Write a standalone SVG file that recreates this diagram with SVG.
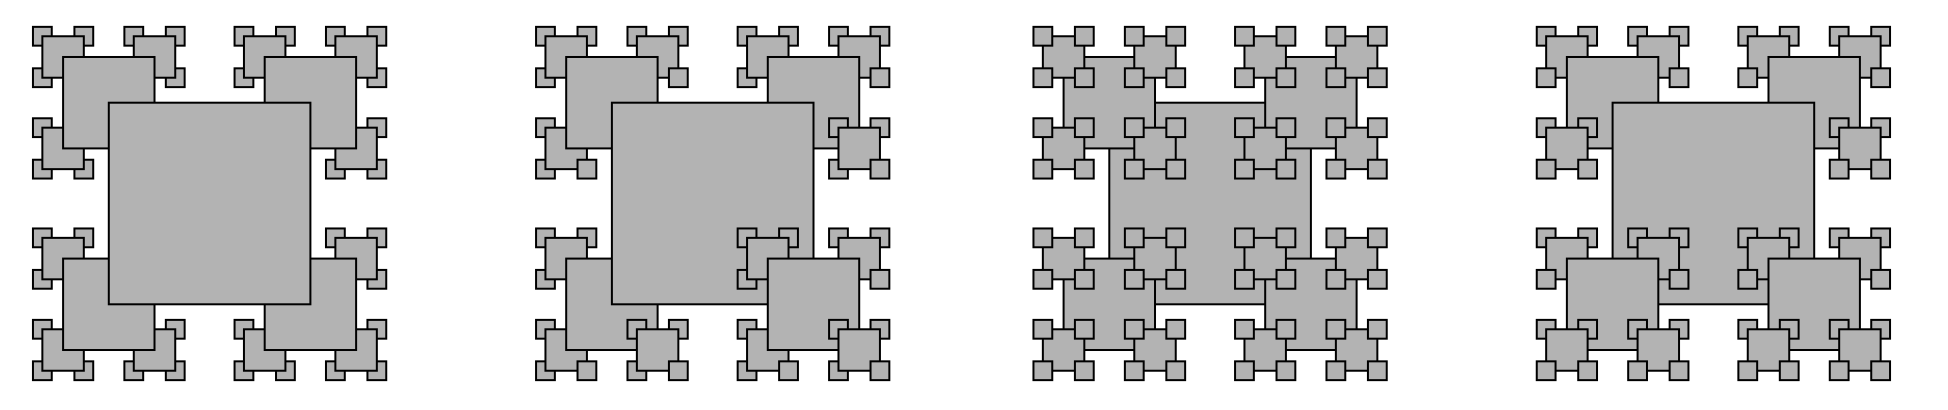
<svg xmlns="http://www.w3.org/2000/svg" xmlns:xlink="http://www.w3.org/1999/xlink" width="1948" height="410" viewBox="0 0 1948 410">
<style>
.fr{fill:#b3b3b3;stroke:#000;stroke-width:2}
</style>
<defs>
<rect id="r0" x="-100.8" y="-100.8" width="201.6" height="201.6"/>
<rect id="r1" x="-45.71" y="-45.71" width="91.42" height="91.42"/>
<rect id="r2" x="-20.73" y="-20.73" width="41.46" height="41.46"/>
<rect id="r3" x="-9.4" y="-9.4" width="18.8" height="18.8"/>

<!-- post-order: children then self -->
<g id="a2"><use href="#r3" x="-20.73" y="-20.73"/><use href="#r3" x="20.73" y="-20.73"/><use href="#r3" x="-20.73" y="20.73"/><use href="#r3" x="20.73" y="20.73"/><use href="#r2"/></g>
<g id="a1"><use href="#a2" x="-45.71" y="-45.71"/><use href="#a2" x="45.71" y="-45.71"/><use href="#a2" x="-45.71" y="45.71"/><use href="#a2" x="45.71" y="45.71"/><use href="#r1"/></g>
<g id="a0"><use href="#a1" x="-100.8" y="-100.8"/><use href="#a1" x="100.8" y="-100.8"/><use href="#a1" x="-100.8" y="100.8"/><use href="#a1" x="100.8" y="100.8"/><use href="#r0"/></g>

<!-- TL, TR, BL, self, BR -->
<g id="b2"><use href="#r3" x="-20.73" y="-20.73"/><use href="#r3" x="20.73" y="-20.73"/><use href="#r3" x="-20.73" y="20.73"/><use href="#r2"/><use href="#r3" x="20.73" y="20.73"/></g>
<g id="b1"><use href="#b2" x="-45.71" y="-45.71"/><use href="#b2" x="45.71" y="-45.71"/><use href="#b2" x="-45.71" y="45.71"/><use href="#r1"/><use href="#b2" x="45.71" y="45.71"/></g>
<g id="b0"><use href="#b1" x="-100.8" y="-100.8"/><use href="#b1" x="100.8" y="-100.8"/><use href="#b1" x="-100.8" y="100.8"/><use href="#r0"/><use href="#b1" x="100.8" y="100.8"/></g>

<!-- pre-order: self then children -->
<g id="c2"><use href="#r2"/><use href="#r3" x="-20.73" y="-20.73"/><use href="#r3" x="20.73" y="-20.73"/><use href="#r3" x="-20.73" y="20.73"/><use href="#r3" x="20.73" y="20.73"/></g>
<g id="c1"><use href="#r1"/><use href="#c2" x="-45.71" y="-45.71"/><use href="#c2" x="45.71" y="-45.71"/><use href="#c2" x="-45.71" y="45.71"/><use href="#c2" x="45.71" y="45.71"/></g>
<g id="c0"><use href="#r0"/><use href="#c1" x="-100.8" y="-100.8"/><use href="#c1" x="100.8" y="-100.8"/><use href="#c1" x="-100.8" y="100.8"/><use href="#c1" x="100.8" y="100.8"/></g>

<!-- TL, TR, self, BL, BR -->
<g id="d2"><use href="#r3" x="-20.73" y="-20.73"/><use href="#r3" x="20.73" y="-20.73"/><use href="#r2"/><use href="#r3" x="-20.73" y="20.73"/><use href="#r3" x="20.73" y="20.73"/></g>
<g id="d1"><use href="#d2" x="-45.71" y="-45.71"/><use href="#d2" x="45.71" y="-45.71"/><use href="#r1"/><use href="#d2" x="-45.71" y="45.71"/><use href="#d2" x="45.71" y="45.71"/></g>
<g id="d0"><use href="#d1" x="-100.8" y="-100.8"/><use href="#d1" x="100.8" y="-100.8"/><use href="#r0"/><use href="#d1" x="-100.8" y="100.8"/><use href="#d1" x="100.8" y="100.8"/></g>
</defs>

<g id="panel1" class="fr"><use href="#a0" x="209.6" y="203.5"/></g>
<g id="panel2" class="fr"><use href="#b0" x="712.7" y="203.5"/></g>
<g id="panel3" class="fr"><use href="#c0" x="1210.1" y="203.5"/></g>
<g id="panel4" class="fr"><use href="#d0" x="1713.4" y="203.5"/></g>
</svg>
